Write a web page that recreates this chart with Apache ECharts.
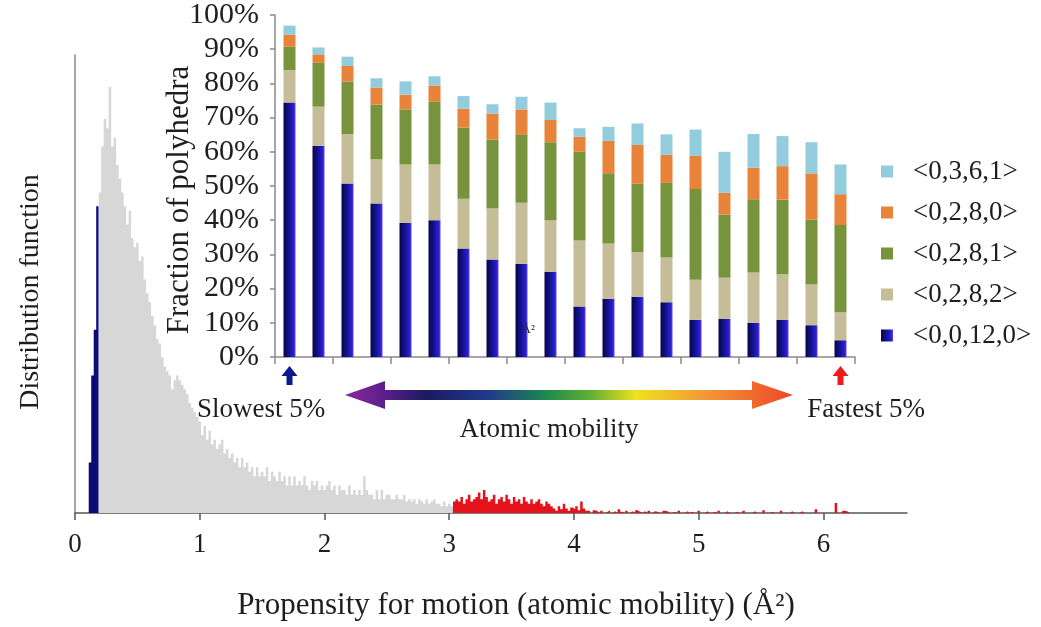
<!DOCTYPE html>
<html>
<head>
<meta charset="utf-8">
<script src="https://cdn.jsdelivr.net/npm/echarts@6/dist/echarts.min.js"></script>
<style>
  html, body { margin: 0; padding: 0; background: #ffffff; }
  #chart { width: 1041px; height: 627px; }
</style>
</head>
<body>
<div id="chart"></div>
<script>
// ---- Distribution of the propensity for motion (Å²), histogram bins of 0.02 ----
const binWidth = 0.02;

// slowest 5% of atoms
const slowStart = 0.11;
const slowCounts = [11, 30, 40, 67];

// bulk of the distribution
const midStart = 0.19;
const midCounts = [
  70, 80, 86, 84, 93, 80, 82, 76, 73, 70,
  67, 63, 66, 60, 58, 59, 55, 56, 51, 48,
  46, 43, 41, 38, 37, 34, 32, 31, 30, 27,
  29, 30, 29, 28, 27, 26, 24, 23, 22, 21,
  20, 17, 19, 16, 18, 15, 16, 14, 15, 16,
  13, 14, 12, 13, 11, 12, 10, 12, 10, 11,
  9, 10, 8, 10, 8, 9, 8, 10, 7, 9,
  8, 7, 9, 7, 8, 6, 8, 6, 8, 6,
  7, 6, 8, 6, 5, 7, 6, 7, 5, 6,
  5, 6, 7, 5, 6, 4, 6, 5, 5, 4,
  6, 4, 5, 4, 5, 4, 8, 5, 4, 4,
  3, 5, 3, 5, 3, 4, 4, 3, 3, 4,
  3, 3, 4, 2.5, 3, 2.5, 3, 2, 3, 2.5,
  2, 3, 2, 2.5, 3, 2, 2, 1.5, 2.5, 1.5,
  2, 1.5
];

// fastest atoms (tail)
const fastStart = 3.03;
const fastCounts = [
  2.5, 3, 2.5, 3.5, 2, 3, 4, 2.5, 3, 3.5,
  4.5, 3, 5, 3.5, 2.5, 3, 4, 2, 3, 3.5,
  2.5, 4, 3, 2, 3.5, 2.5, 3, 2, 3.5, 2.5,
  2, 3, 2, 2.5, 3, 2, 1.5, 2.5, 2, 1.5,
  1, 0.5, 1.5, 0.8, 2, 1, 0.5, 1.2, 0.8, 1.5,
  0.6, 2.5, 1, 0.5,
  0.5, 0, 0.6, 0.4, 0, 0.5, 0, 0.3, 0.6, 0,
  0.4, 0, 0.8, 0.3, 0, 0.5, 0, 0.4, 0, 0.6,
  0.3, 0, 0.4, 0, 0.5,
  0, 0.4, 0.3, 0, 0, 0.5, 0.4, 0, 0, 0.3,
  0, 0.5, 0, 0, 0.4, 0, 0.3, 0, 0, 0.5,
  0, 0, 0.4, 0, 0, 0.3, 0, 0.5, 0, 0,
  0.4, 0, 0, 0, 0.3, 0, 0, 0.5, 0, 0,
  0, 0.4, 0, 0, 0, 0.6, 0, 0, 0.3, 0,
  0, 0, 0.5, 0, 0, 0, 0.4, 0, 0, 0,
  0.4, 0, 0, 0, 0, 0, 0.8, 0, 0, 0,
  0, 0, 0, 0, 2.2, 0, 0, 0.5, 0.4, 0,
  0, 0, 0, 0, 0, 0, 0, 0, 0, 0,
  0, 0.4
];

const xTickValues = [0, 1, 2, 3, 4, 5, 6];

// ---- Fraction of Voronoi polyhedra in each 5% mobility group ----
const groups = [
  '0-5%', '5-10%', '10-15%', '15-20%', '20-25%', '25-30%', '30-35%', '35-40%', '40-45%', '45-50%',
  '50-55%', '55-60%', '60-65%', '65-70%', '70-75%', '75-80%', '80-85%', '85-90%', '90-95%', '95-100%'
];
const poly_0_0_12_0 = [74.4, 61.8, 50.7, 44.9, 39.2, 40.0, 31.7, 28.5, 27.3, 24.9, 14.8, 17.0, 17.6, 16.0, 10.9, 11.2, 10.0, 10.9, 9.3, 4.9];
const poly_0_2_8_2  = [9.5, 11.4, 14.5, 12.9, 17.1, 16.3, 14.6, 14.9, 17.8, 15.1, 19.3, 16.2, 13.1, 13.1, 11.7, 12.0, 14.7, 13.3, 12.0, 8.2];
const poly_0_2_8_1  = [6.8, 12.8, 15.3, 16.0, 16.1, 18.3, 20.8, 20.2, 20.0, 22.8, 25.9, 20.5, 20.0, 21.8, 26.5, 18.4, 21.4, 21.8, 18.9, 25.5];
const poly_0_2_8_0  = [3.6, 2.5, 4.6, 5.0, 4.3, 4.8, 5.5, 7.6, 7.3, 6.5, 4.4, 9.5, 11.3, 8.2, 9.7, 6.4, 9.2, 9.8, 13.5, 9.0];
const poly_0_3_6_1  = [2.6, 2.0, 2.7, 2.7, 3.9, 2.7, 3.7, 2.7, 3.7, 5.1, 2.5, 4.1, 6.3, 6.0, 7.7, 12.0, 9.9, 8.8, 9.1, 8.7];
const yTickValues = [0, 10, 20, 30, 40, 50, 60, 70, 80, 90, 100];

const polyNames = ['<0,0,12,0>', '<0,2,8,2>', '<0,2,8,1>', '<0,2,8,0>', '<0,3,6,1>'];

// histogram bins -> step outline points (value held over each bin)
function binPoints(start, counts) {
  const pts = counts.map((c, i) => [+(start + i * binWidth).toFixed(3), c]);
  pts.push([+(start + counts.length * binWidth).toFixed(3), counts[counts.length - 1]]);
  return pts;
}

const SERIF = '"Liberation Serif", "Times New Roman", serif';
const INK = '#1e1e1e';

const blueBar = new echarts.graphic.LinearGradient(0, 0, 1, 0, [
  { offset: 0, color: '#06064a' },
  { offset: 0.45, color: '#14128f' },
  { offset: 0.85, color: '#2a1fd6' },
  { offset: 1, color: '#6a44d8' }
]);

function histSeries(name, start, counts, color) {
  return {
    name: name, type: 'line', xAxisIndex: 0, yAxisIndex: 0,
    step: 'end', symbol: 'none', silent: true,
    lineStyle: { width: 0, opacity: 0 },
    areaStyle: { color: color, opacity: 1 },
    data: binPoints(start, counts)
  };
}

function polySeries(name, values, color) {
  return {
    name: name, type: 'bar', xAxisIndex: 1, yAxisIndex: 1,
    stack: 'poly', barWidth: 12,
    itemStyle: { color: color },
    data: values
  };
}

const chart = echarts.init(document.getElementById('chart'), null, { renderer: 'canvas' });

chart.setOption({
  animation: false,
  backgroundColor: '#ffffff',
  textStyle: { fontFamily: SERIF, color: INK },
  grid: [
    { left: 75, right: 134, top: 55, bottom: 114, containLabel: false, outerBoundsMode: 'none' },
    { left: 275, right: 186, top: 15, bottom: 270, containLabel: false, outerBoundsMode: 'none' }
  ],
  xAxis: [
    {
      type: 'value', gridIndex: 0, min: 0, max: 6.67, interval: 1,
      name: 'Propensity for motion (atomic mobility) (Å²)',
      nameLocation: 'middle', nameGap: 77, nameMoveOverlap: false,
      nameTextStyle: { fontFamily: SERIF, fontSize: 31, color: INK, padding: [0, 0, 0, 50] },
      axisLine: { show: true, onZero: false, lineStyle: { color: '#555555', width: 1.5 } },
      axisTick: { show: true, length: 7, inside: false, customValues: xTickValues, lineStyle: { color: '#555555', width: 1.5 } },
      axisLabel: { show: true, customValues: xTickValues, margin: 18, fontFamily: SERIF, fontSize: 27, color: INK },
      splitLine: { show: false }
    },
    {
      type: 'category', gridIndex: 1, data: groups, boundaryGap: true,
      axisLine: { show: true, lineStyle: { color: '#8a8a8a', width: 1.5 } },
      axisTick: { show: true, length: 7, alignWithLabel: false, lineStyle: { color: '#8a8a8a', width: 1.5 } },
      axisLabel: { show: false },
      splitLine: { show: false }
    }
  ],
  yAxis: [
    {
      type: 'value', gridIndex: 0, min: 0, max: 100,
      name: 'Distribution function', nameLocation: 'middle', nameGap: 30, nameMoveOverlap: false,
      nameTextStyle: { fontFamily: SERIF, fontSize: 28, color: INK, padding: [0, 16, 0, 0] },
      axisLine: { show: true, onZero: false, lineStyle: { color: '#8a8a8a', width: 1.5 } },
      axisTick: { show: false },
      axisLabel: { show: false },
      splitLine: { show: false }
    },
    {
      type: 'value', gridIndex: 1, min: 0, max: 100, interval: 10,
      name: 'Fraction of polyhedra', nameLocation: 'middle', nameGap: 80, nameMoveOverlap: false,
      nameTextStyle: { fontFamily: SERIF, fontSize: 31, color: INK, padding: [0, 28, 0, 0] },
      axisLine: { show: true, onZero: false, lineStyle: { color: '#8a8a8a', width: 1.5 } },
      axisTick: { show: true, length: 5, inside: false, customValues: yTickValues, lineStyle: { color: '#8a8a8a', width: 1.5 } },
      axisLabel: { show: true, customValues: yTickValues, formatter: '{value}%', margin: 16, fontFamily: SERIF, fontSize: 30, color: INK },
      splitLine: { show: false }
    }
  ],
  legend: {
    show: true, orient: 'vertical', left: 876, top: 152,
    data: ['<0,3,6,1>', '<0,2,8,0>', '<0,2,8,1>', '<0,2,8,2>', '<0,0,12,0>'],
    icon: 'rect', itemWidth: 12, itemHeight: 12, itemGap: 12,
    selectedMode: false,
    textStyle: { fontFamily: SERIF, fontSize: 27, color: INK, lineHeight: 29, padding: [0, 0, 0, 15] }
  },
  series: [
    histSeries('slowest', slowStart, slowCounts, '#0b0b78'),
    histSeries('bulk', midStart, midCounts, '#d7d7d7'),
    histSeries('fastest', fastStart, fastCounts, '#e3121b'),
    polySeries(polyNames[0], poly_0_0_12_0, blueBar),
    polySeries(polyNames[1], poly_0_2_8_2, '#c4bd97'),
    polySeries(polyNames[2], poly_0_2_8_1, '#77933c'),
    polySeries(polyNames[3], poly_0_2_8_0, '#e8833a'),
    polySeries(polyNames[4], poly_0_3_6_1, '#93cddd')
  ]
});

// annotations placed relative to the first and last mobility group
const first = chart.convertToPixel({ gridIndex: 1 }, [0, 0]);
const last = chart.convertToPixel({ gridIndex: 1 }, [groups.length - 1, 0]);
const ninth = chart.convertToPixel({ gridIndex: 1 }, [8, 8]);

function upArrow(cx, top, color) {
  return {
    type: 'polygon', silent: true,
    shape: { points: [[cx, top], [cx + 8, top + 10], [cx + 3, top + 10], [cx + 3, top + 19], [cx - 3, top + 19], [cx - 3, top + 10], [cx - 8, top + 10]] },
    style: { fill: color }
  };
}

const arrowLeft = 345, arrowRight = 793, arrowY = 395;
const spectrum = new echarts.graphic.LinearGradient(0, 0, 1, 0, [
  { offset: 0, color: '#8a2a9e' },
  { offset: 0.09, color: '#5a1f8a' },
  { offset: 0.18, color: '#1d1a60' },
  { offset: 0.32, color: '#1f3a8a' },
  { offset: 0.45, color: '#1d8a4e' },
  { offset: 0.55, color: '#62b030' },
  { offset: 0.65, color: '#eee21e' },
  { offset: 0.8, color: '#f39a35' },
  { offset: 1, color: '#ee4526' }
]);

chart.setOption({
  graphic: [
    upArrow(first[0], first[1] + 9, '#0c1a8c'),
    upArrow(last[0], last[1] + 9, '#ef1b1b'),
    {
      type: 'polygon', silent: true,
      shape: { points: [
        [arrowLeft, arrowY], [arrowLeft + 40, arrowY - 14], [arrowLeft + 40, arrowY - 5],
        [arrowRight - 41, arrowY - 5], [arrowRight - 41, arrowY - 14], [arrowRight, arrowY],
        [arrowRight - 41, arrowY + 14], [arrowRight - 41, arrowY + 5],
        [arrowLeft + 40, arrowY + 5], [arrowLeft + 40, arrowY + 14]
      ] },
      style: { fill: spectrum }
    },
    {
      type: 'text', silent: true, x: 261, y: 410,
      style: { text: 'Slowest 5%', fontFamily: SERIF, fontSize: 27, fill: INK, align: 'center', verticalAlign: 'middle' }
    },
    {
      type: 'text', silent: true, x: 866, y: 410,
      style: { text: 'Fastest 5%', fontFamily: SERIF, fontSize: 27, fill: INK, align: 'center', verticalAlign: 'middle' }
    },
    {
      type: 'text', silent: true, x: 549, y: 430,
      style: { text: 'Atomic mobility', fontFamily: SERIF, fontSize: 27, fill: INK, align: 'center', verticalAlign: 'middle' }
    },
    {
      type: 'text', silent: true, x: ninth[0], y: ninth[1], z: 100,
      style: { text: 'Å²', fontFamily: SERIF, fontSize: 13, fill: '#222222', align: 'left', verticalAlign: 'middle' }
    }
  ]
});
</script>
</body>
</html>
